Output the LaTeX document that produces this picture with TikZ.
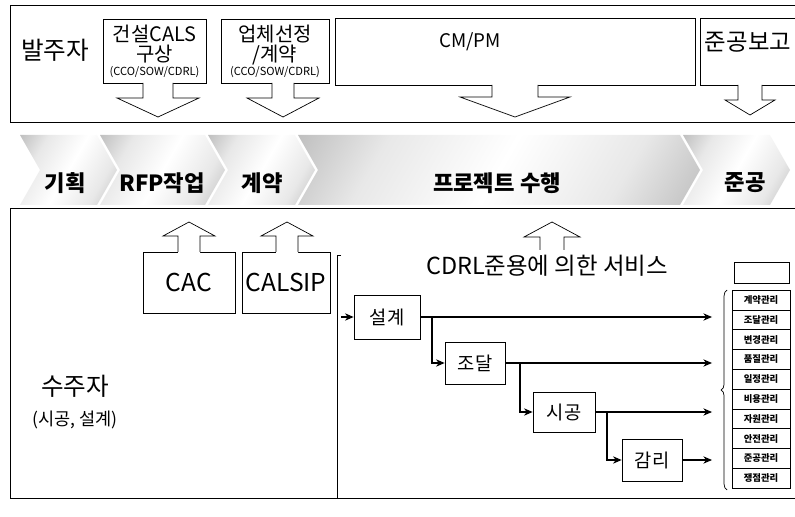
\documentclass[tikz,border=0pt]{standalone}
\usepackage{fontspec}
\setmainfont{Noto Sans CJK KR}
\usepackage{tikz}
\usetikzlibrary{arrows.meta,positioning,decorations.pathreplacing}
\newcommand{\px}{0.03cm}
\newcommand{\fsz}[1]{\fontsize{#1}{#1}\selectfont}
\pgfdeclareverticalshading{phaseshade}{100bp}{color(0bp)=(gray!85); color(30bp)=(gray!18); color(50bp)=(white); color(70bp)=(gray!18); color(100bp)=(gray!85)}
% block arrow: centre x, stem start, head base, tip, stem half width, head half width
\newcommand{\blockarr}[6]{%
  \fill[white] (#1-#5,{#2+sign(#2-#3)}) -- (#1-#5,#3) -- (#1-#6,#3) -- (#1,#4) -- (#1+#6,#3) -- (#1+#5,#3) -- (#1+#5,{#2+sign(#2-#3)}) -- cycle;
  \draw[blk] (#1-#5,#2) -- (#1-#5,#3) -- (#1-#6,#3) -- (#1,#4) -- (#1+#6,#3) -- (#1+#5,#3) -- (#1+#5,#2);}
\newcommand{\chevron}[2]{%
  \shade[phasefill] (#1,135) -- (#2,135) -- ++(20,35) -- ++(-20,35) -- (#1,205) -- ++(20,-35) -- cycle;}

\begin{document}
\begin{tikzpicture}[
   x=0.03cm, y=-0.03cm, line width=0.6pt,
   box/.style={draw, align=center, inner sep=1pt},
   blk/.style={line width=0.6pt, line join=miter},
   phasefill/.style={shading=phaseshade, shading angle=60},
   phase/.style={font=\fsz{19}\bfseries},
   flow/.style={draw, minimum height=42*\px, font=\fsz{16}},
   item/.style={draw, minimum width=58*\px, minimum height=19.8*\px, inner sep=0pt, font=\fsz{8}\bfseries},
   ar/.style={-{Stealth[length=2.6mm,width=2.2mm]}, line width=0.9pt}
]
\useasboundingbox (0,0) rectangle (795,517);

% owner side
\draw (10,5) rectangle (797,122);
\node[font=\fsz{21}] (owner) at (55,50) {발주자};
\node[box, minimum width=103*\px, minimum height=64*\px, font=\fsz{17}] (calsplan) at (154.5,51) {건설CALS\\[0pt]구상\\[-5pt]{\fsz{9.5}(CCO/SOW/CDRL)}};
\node[box, minimum width=108*\px, minimum height=64*\px, font=\fsz{17}] (select) at (275,51) {업체선정\\[0pt]/계약\\[-5pt]{\fsz{9.5}(CCO/SOW/CDRL)}};
\node[box, minimum width=360*\px, minimum height=67*\px] (cmpm) at (515,51.5) {};
\node[font=\fsz{16}] (cmpmtxt) at (470,42) {CM/PM};
\node[box, minimum width=100*\px, minimum height=67*\px] (report) at (750,51.5) {};
\node[font=\fsz{20}] (reporttxt) at (748,42) {준공보고};
\blockarr{158}{83}{98}{117}{15}{41}
\blockarr{283}{83}{98}{117}{11}{36}
\blockarr{515}{85}{97}{117}{23}{55}
\blockarr{750}{85}{100}{115}{12}{25}

% phases
\chevron{20}{97}
\chevron{100}{205}
\chevron{208}{295}
\chevron{298}{680}
\chevron{683}{770}
\node[phase] (ph1) at (65,183) {기획};
\node[phase] (ph2) at (162,183) {RFP작업};
\node[phase] (ph3) at (262,183) {계약};
\node[phase] (ph4) at (497,183) {프로젝트 수행};
\node[phase] (ph5) at (745,183) {준공};

% contractor side
\draw (10,208) rectangle (797,498);
\node[font=\fsz{21}, align=center] (contractor) at (75,402) {수주자\\[5pt]{\fsz{15}(시공, 설계)}};
\node[box, minimum width=92*\px, minimum height=61*\px, font=\fsz{21}] (cac) at (189,282.5) {CAC};
\node[box, minimum width=88*\px, minimum height=61*\px, font=\fsz{21}] (calsip) at (286,282.5) {CALSIP};
\blockarr{189}{252}{236}{222}{11}{26}
\blockarr{287}{252}{236}{222}{11}{26}
\blockarr{552}{250}{237}{222}{12}{28}
\node[font=\fsz{20}] (svc) at (547,266) {CDRL준용에 의한 서비스};
\draw (341,255) -- (337,255) -- (337,498);

% work flow
\node[flow, minimum width=66*\px, minimum height=44*\px] (design) at (387,317) {설계};
\node[flow, minimum width=60*\px] (procure) at (475,363) {조달};
\node[flow, minimum width=62*\px, minimum height=40*\px] (build) at (564,412) {시공};
\node[flow, minimum width=60*\px] (superv) at (652,460) {감리};
\coordinate (in) at (341,317);
\coordinate (rim) at (712,0);
\coordinate (b1) at (432,0);
\coordinate (b2) at (520,0);
\coordinate (b3) at (607,0);
\draw[ar] (in) -- (design.west);
\draw[ar] (design.east) -- (design.east -| rim);
\draw[ar] (procure.east) -- (procure.east -| rim);
\draw[ar] (build.east) -- (build.east -| rim);
\draw[ar] (superv.east) -- (superv.east -| rim);
\draw[ar] (design.east -| b1) |- (procure.west);
\draw[ar] (procure.east -| b2) |- (build.west);
\draw[ar] (build.east -| b3) |- (superv.west);

% management items
\node[draw, minimum width=55*\px, minimum height=21*\px] (listhead) at (762,272.5) {};
\foreach \t [count=\i] in {계약관리,조달관리,변경관리,품질관리,일정관리,비용관리,자원관리,안전관리,준공관리,쟁점관리}
  \node[item] (m\i) at (761,280.2+\i*19.8) {\t};
\draw[decorate, decoration={brace, amplitude=5pt}] (727,490) -- (727,290);
\end{tikzpicture}
\end{document}
